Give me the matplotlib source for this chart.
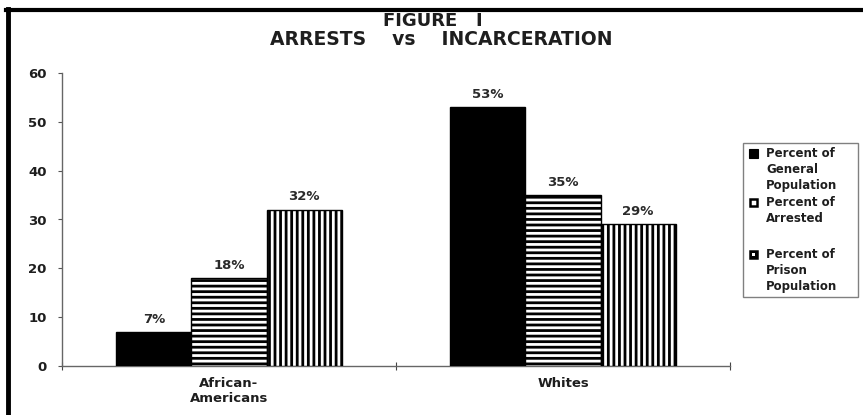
import matplotlib
matplotlib.use("Agg")
import matplotlib.pyplot as plt
from matplotlib.lines import Line2D
from matplotlib.patches import Rectangle
from matplotlib.transforms import Affine2D
import numpy as np

plt.rcParams['font.family'] = ['DejaVu Sans']
plt.rcParams['hatch.linewidth'] = 2.0
plt.rcParams['hatch.color'] = 'black'

categories = ["African-\nAmericans", "Whites"]
series_names = ["Percent of\nGeneral\nPopulation", "Percent of\nArrested", "Percent of\nPrison\nPopulation"]
general_population = [7, 53]
arrested = [18, 35]
prison_population = [32, 29]
value_labels = [["7%", "53%"], ["18%", "35%"], ["32%", "29%"]]
yticks = [0, 10, 20, 30, 40, 50, 60]

W, H = 863, 415
fig = plt.figure(figsize=(W/100, H/100), dpi=100)
ax = fig.add_axes([62/W, 1-366/H, (730-62)/W, (366-73)/H])

series = [general_population, arrested, prison_population]
styles = [dict(facecolor='black', hatch=None),
          dict(facecolor='white', hatch='---'),
          dict(facecolor='white', hatch='|||')]
centers = np.arange(len(categories)) + 0.5
width = 0.225
TXT = '#1e1e1e'
for i, (vals, st) in enumerate(zip(series, styles)):
    xs = centers + (i - 1) * width
    bars = ax.bar(xs, vals, width=width, facecolor=st['facecolor'], hatch=st['hatch'],
                  edgecolor='black', linewidth=1.0, label=series_names[i], zorder=3)
    for b, lab in zip(bars, value_labels[i]):
        ax.annotate(lab, (b.get_x() + b.get_width()/2, b.get_height()),
                    xytext=(0, 4.5), textcoords='offset points', ha='center', va='bottom',
                    fontsize=9.5, fontweight='bold', color='#2a2a2a')

ax.set_xlim(0, 2)
ax.set_ylim(0, 60)
ax.set_yticks(yticks)
ax.set_yticklabels([str(t) for t in yticks], fontsize=9.5, fontweight='bold', color=TXT)
ax.set_xticks([0, 1, 2])
ax.set_xticklabels(['', '', ''])
ax.set_xticks(centers, minor=True)
ax.set_xticklabels(categories, minor=True, fontsize=9.5, fontweight='bold', color=TXT)
ax.tick_params(axis='x', which='minor', length=0, pad=8)
ax.tick_params(axis='x', which='major', direction='inout', length=6, color='#444444')
ax.tick_params(axis='y', direction='out', length=3, color='#555555', pad=8)
for s in ['top', 'right']:
    ax.spines[s].set_visible(False)
for s in ['left', 'bottom']:
    ax.spines[s].set_color('#666666')
    ax.spines[s].set_linewidth(1.0)

fig.text(433/W, 1-21/H, "FIGURE   I", ha='center', va='center', fontsize=13, fontweight='bold', color=TXT)
fig.text(441/W, 1-39.5/H, "ARRESTS    vs    INCARCERATION", ha='center', va='center', fontsize=13.5, fontweight='bold', color=TXT)

# legend (drawn manually in pixel coordinates)
pxT = Affine2D().scale(1/W, -1/H).translate(0, 1) + fig.transFigure
fig.add_artist(Rectangle((743, 143), 115, 154, transform=pxT, facecolor='white',
                         edgecolor='#808080', linewidth=1.0))
entry_tops = [147, 196, 248]
fig.add_artist(Rectangle((749, 149), 9, 9, transform=pxT, facecolor='black', edgecolor='black', lw=0.8))
fig.add_artist(Rectangle((750, 199), 7, 7, transform=pxT, facecolor='white', edgecolor='black', lw=1.8))
fig.add_artist(Rectangle((750, 251), 7, 7, transform=pxT, facecolor='black', edgecolor='black', lw=1.8))
fig.add_artist(Rectangle((752.2, 253.2), 2.6, 2.6, transform=pxT, facecolor='white', edgecolor='none'))
for top, name in zip(entry_tops, series_names):
    fig.text(766/W, 1-top/H, name, ha='left', va='top', fontsize=8.5, fontweight='bold',
             color=TXT, linespacing=1.3)

fig.add_artist(Line2D([7.5/W, 7.5/W], [0, 1-9/H], transform=fig.transFigure, color='black', lw=3.5))
fig.add_artist(Line2D([6/W, 1], [1-10.5/H, 1-10.5/H], transform=fig.transFigure, color='black', lw=3))

fig.savefig("out.png", dpi=100, facecolor='white')
